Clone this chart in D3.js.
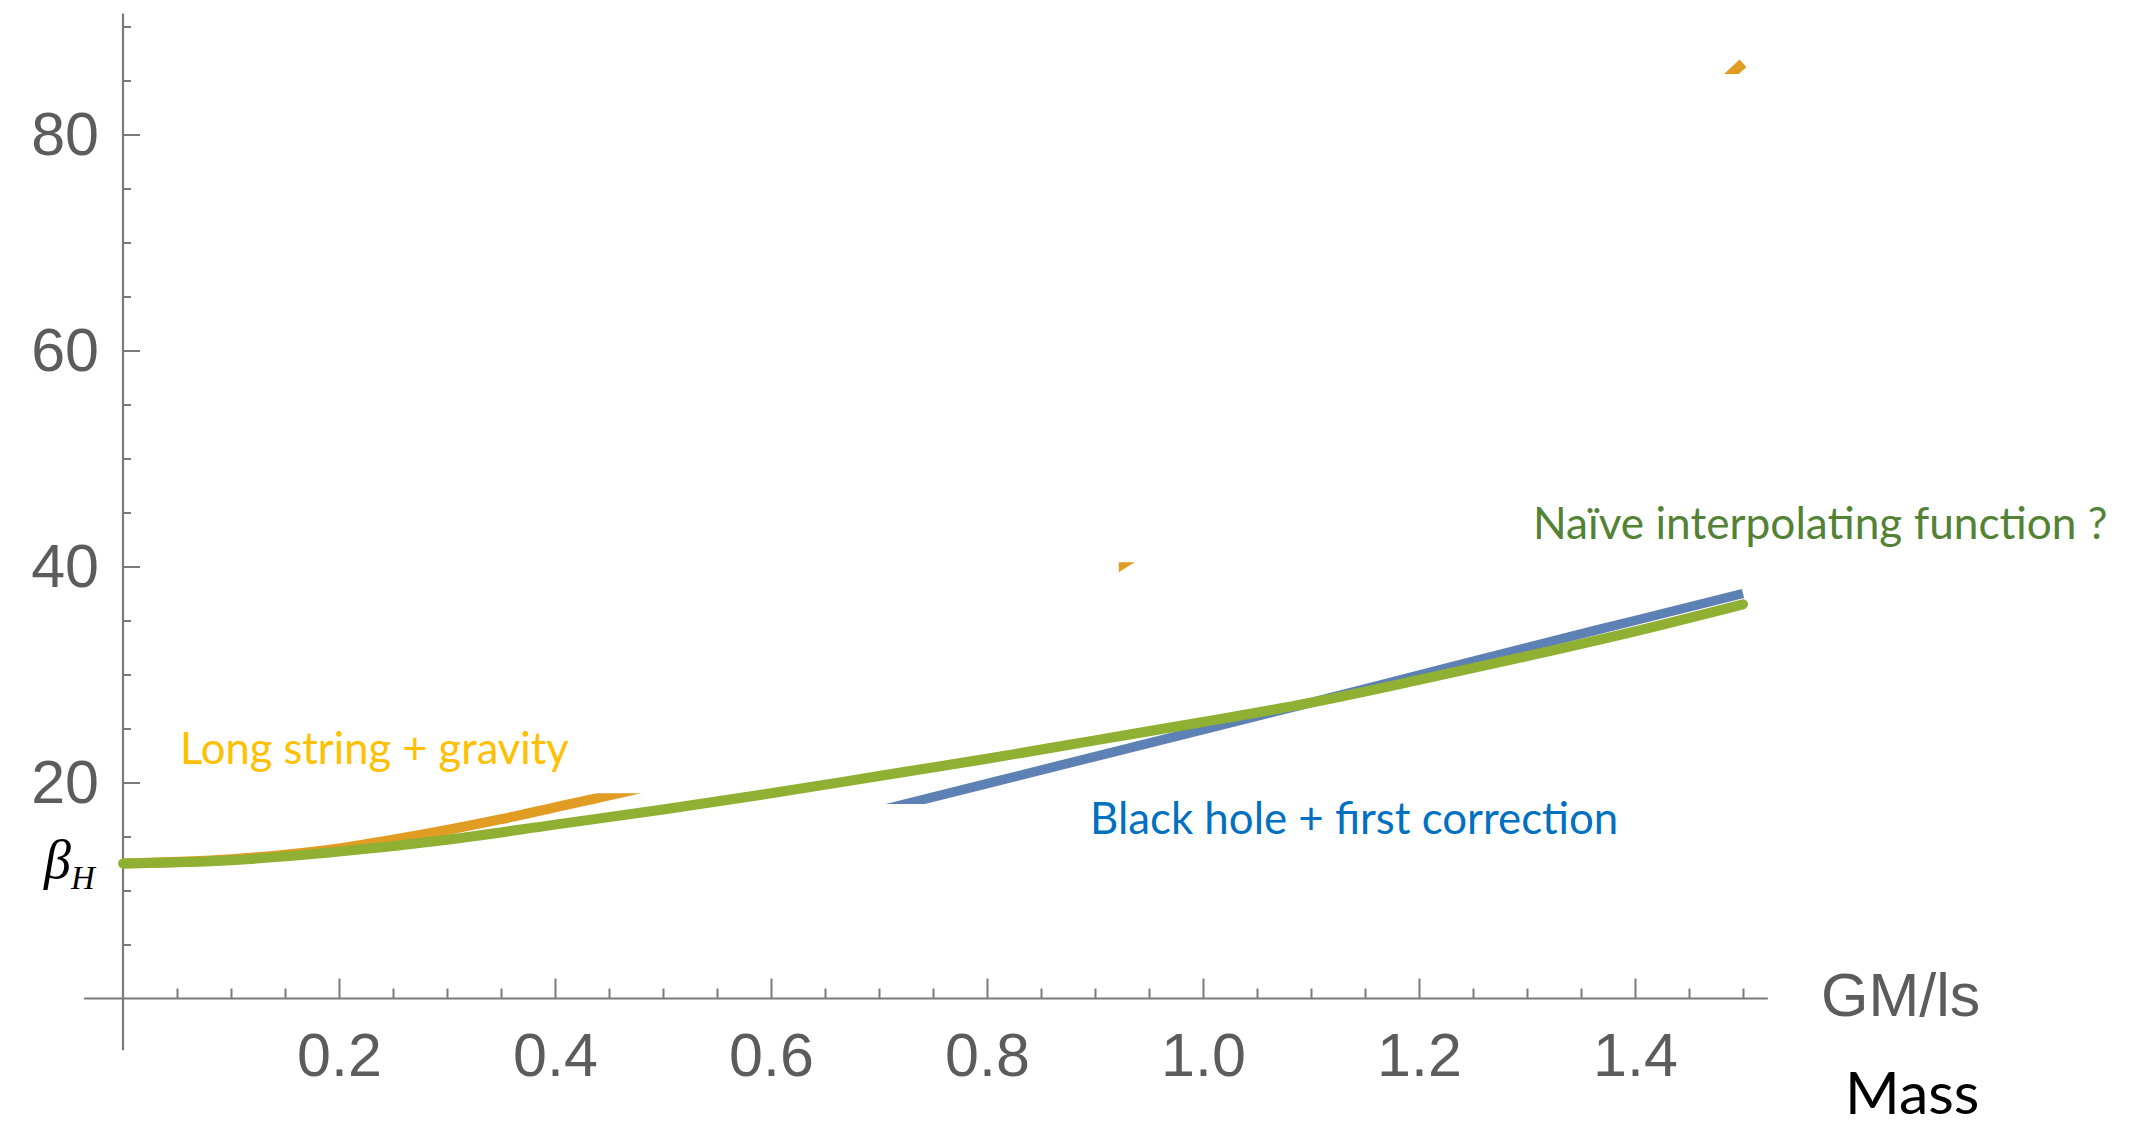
<!DOCTYPE html>
<html>
<head>
<meta charset="utf-8">
<script src="https://cdn.jsdelivr.net/npm/d3@7"></script>
<style>
  html, body { margin: 0; padding: 0; background: #ffffff; }
  svg { display: block; }
</style>
</head>
<body>
<svg id="chart" width="2152" height="1139"></svg>
<script>
// Inverse temperature as a function of mass (GM/ls)
const massGreen   = [0, 0.1, 0.2, 0.3, 0.4, 0.5, 0.6, 0.7, 0.8, 0.9, 1.0, 1.1, 1.2, 1.3, 1.4, 1.5];
const betaGreen   = [12.5, 12.8, 13.6, 14.7, 16.1, 17.5, 19.0, 20.6, 22.2, 23.9, 25.6, 27.4, 29.5, 31.7, 34.0, 36.5];

const massOrange  = [0, 0.1, 0.2, 0.25, 0.3, 0.35, 0.4, 0.45, 0.5, 0.6, 0.7, 0.8, 0.925, 1.0, 1.1, 1.2, 1.3, 1.4, 1.5];
const betaOrange  = [12.5, 12.9, 13.9, 14.7, 15.6, 16.6, 17.7, 18.8, 20.0, 23.5, 27.5, 32.5, 40.2, 45.0, 52.0, 59.5, 68.0, 77.3, 86.6];

const massBlue    = [0.68, 0.8, 0.9, 1.0, 1.1, 1.2, 1.3, 1.4, 1.5];
const betaBlue    = [16.9, 19.9, 22.4, 24.9, 27.4, 29.95, 32.5, 35.0, 37.5];

const xMajorTicks = [0.2, 0.4, 0.6, 0.8, 1.0, 1.2, 1.4];
const yMajorTicks = [20, 40, 60, 80];

const svg = d3.select("#chart");
const W = 2152, H = 1139;

const x = d3.scaleLinear().domain([0, 1.5]).range([123, 1743]);
const y = d3.scaleLinear().domain([0, 80]).range([998.5, 134.5]);

const xMinorTicks = d3.range(1, 31).map(i => +(i * 0.05).toFixed(2))
  .filter(v => !xMajorTicks.some(m => Math.abs(m - v) < 1e-9));
const yMinorTicks = d3.range(1, 19).map(i => i * 5)
  .filter(v => !yMajorTicks.includes(v));

const axisColor = "#7a7a7a";
const labelColor = "#5c5c5c";

// ---- axes ----
const gAxes = svg.append("g");

// axis lines through the origin
gAxes.append("line")
  .attr("x1", x(-0.036)).attr("x2", x(1.523))
  .attr("y1", y(0)).attr("y2", y(0))
  .attr("stroke", axisColor).attr("stroke-width", 2.2);
gAxes.append("line")
  .attr("x1", x(0)).attr("x2", x(0))
  .attr("y1", y(91.2)).attr("y2", y(-4.8))
  .attr("stroke", axisColor).attr("stroke-width", 2.2);

function styleAxis(g) {
  g.select(".domain").remove();
  g.selectAll(".tick line").attr("stroke", axisColor).attr("stroke-width", 2);
  g.selectAll(".tick text")
    .attr("fill", labelColor)
    .style("font-family", "'Liberation Sans', Arial, sans-serif")
    .style("font-size", "61px");
}

// x axis: major + minor ticks point upward
gAxes.append("g")
  .attr("transform", `translate(0,${y(0)})`)
  .call(d3.axisBottom(x).tickValues(xMinorTicks).tickSize(-10).tickFormat(""))
  .call(styleAxis);
gAxes.append("g")
  .attr("transform", `translate(0,${y(0)})`)
  .call(d3.axisBottom(x).tickValues(xMajorTicks).tickSize(-20).tickPadding(34).tickFormat(d3.format(".1f")))
  .call(styleAxis);

// y axis: ticks point right, labels on the left
gAxes.append("g")
  .attr("transform", `translate(${x(0)},0)`)
  .call(d3.axisLeft(y).tickValues(yMinorTicks).tickSize(-8).tickFormat(""))
  .call(styleAxis);
gAxes.append("g")
  .attr("transform", `translate(${x(0)},0)`)
  .call(d3.axisLeft(y).tickValues(yMajorTicks).tickSize(-17).tickPadding(24).tickFormat(d3.format("d")))
  .call(styleAxis);

// ---- curves ----
const line = d3.line()
  .x(d => x(d[0]))
  .y(d => y(d[1]))
  .curve(d3.curveMonotoneX);

const defs = svg.append("defs");

// long-string branch only shows in three windows
const clipO = defs.append("clipPath").attr("id", "clipOrange");
clipO.append("rect").attr("x", 0).attr("y", y(19.0)).attr("width", W).attr("height", H - y(19.0));
clipO.append("rect").attr("x", x(0.922)).attr("y", y(40.4)).attr("width", W - x(0.922)).attr("height", H - y(40.4));
clipO.append("rect").attr("x", 0).attr("y", 0).attr("width", W).attr("height", y(85.6));

// black-hole branch only shows above beta = 18
const clipB = defs.append("clipPath").attr("id", "clipBlue");
clipB.append("rect").attr("x", 0).attr("y", 0).attr("width", W).attr("height", y(18.0));

svg.append("path")
  .datum(d3.zip(massOrange, betaOrange))
  .attr("d", line)
  .attr("fill", "none")
  .attr("stroke", "#e19c24")
  .attr("stroke-width", 10)
  .attr("clip-path", "url(#clipOrange)");

svg.append("path")
  .datum(d3.zip(massBlue, betaBlue))
  .attr("d", line)
  .attr("fill", "none")
  .attr("stroke", "#5e81b5")
  .attr("stroke-width", 9.5)
  .attr("clip-path", "url(#clipBlue)");

svg.append("path")
  .datum(d3.zip(massGreen, betaGreen))
  .attr("d", line)
  .attr("fill", "none")
  .attr("stroke", "#8fb032")
  .attr("stroke-width", 10)
  .attr("stroke-linecap", "round");

// ---- annotations ----
const sans = "Lato, 'Open Sans', sans-serif";

svg.append("text")
  .attr("x", 180).attr("y", 764)
  .attr("fill", "#ffc000")
  .style("font-family", sans).style("font-size", "43.5px")
  .text("Long string + gravity");

svg.append("text")
  .attr("x", 1090).attr("y", 834)
  .attr("fill", "#0070c0")
  .style("font-family", sans).style("font-size", "43.8px")
  .text("Black hole + first correction");

svg.append("text")
  .attr("x", 1533).attr("y", 539)
  .attr("fill", "#548235")
  .style("font-family", sans).style("font-size", "44.2px")
  .text("Naïve interpolating function ?");

svg.append("text")
  .attr("x", 1845).attr("y", 1114)
  .attr("fill", "#000000")
  .style("font-family", sans).style("font-size", "59px")
  .text("Mass");

svg.append("text")
  .attr("x", 1821).attr("y", 1016)
  .attr("fill", labelColor)
  .style("font-family", "'Liberation Sans', Arial, sans-serif")
  .style("font-size", "61px")
  .text("GM/ls");

const beta = svg.append("text")
  .attr("x", 44).attr("y", 878)
  .attr("fill", "#000000")
  .style("font-family", "'Liberation Serif', 'DejaVu Serif', serif")
  .style("font-style", "italic");
beta.append("tspan").style("font-size", "54px").text("β");
beta.append("tspan").attr("dy", 11).style("font-size", "33px").text("H");
</script>
</body>
</html>
